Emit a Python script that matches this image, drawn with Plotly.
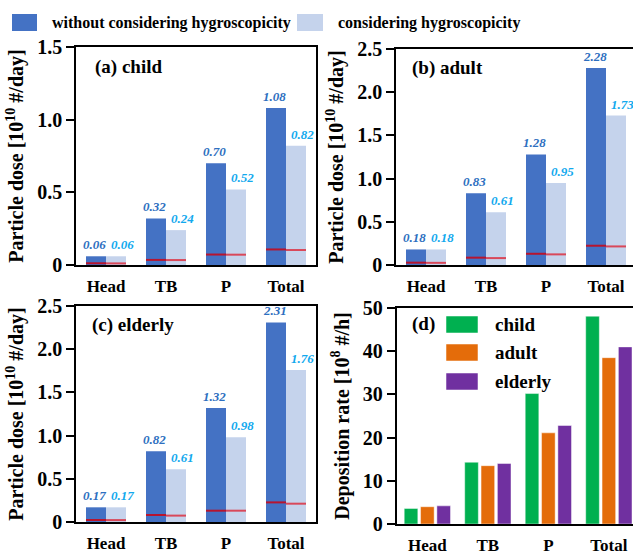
import plotly.graph_objects as go

# ---------------- data ----------------
categories = ["Head", "TB", "P", "Total"]

child_without = [0.06, 0.32, 0.70, 1.08]
child_with = [0.06, 0.24, 0.52, 0.82]
adult_without = [0.18, 0.83, 1.28, 2.28]
adult_with = [0.18, 0.61, 0.95, 1.73]
elderly_without = [0.17, 0.82, 1.32, 2.31]
elderly_with = [0.17, 0.61, 0.98, 1.76]

# red reference line levels inside bars
child_red_without = [0.012, 0.035, 0.072, 0.107]
child_red_with = [0.011, 0.034, 0.071, 0.103]
adult_red_without = [0.027, 0.085, 0.130, 0.223]
adult_red_with = [0.025, 0.080, 0.123, 0.215]
elderly_red_without = [0.023, 0.081, 0.131, 0.227]
elderly_red_with = [0.022, 0.074, 0.131, 0.212]

dep_child = [3.6, 14.3, 30.2, 48.1]
dep_adult = [4.0, 13.5, 21.1, 38.5]
dep_elderly = [4.2, 14.0, 22.8, 41.0]

dose_ticks_a = [0, 0.5, 1.0, 1.5]
dose_ticktext_a = ["0", "0.5", "1.0", "1.5"]
dose_ticks_bc = [0, 0.5, 1.0, 1.5, 2.0, 2.5]
dose_ticktext_bc = ["0", "0.5", "1.0", "1.5", "2.0", "2.5"]
dep_ticks = [0, 10, 20, 30, 40, 50]

# ---------------- style ----------------
W, H = 633, 554
FONT = "Liberation Serif, Times New Roman, serif"
DARK = "#4472C4"
LIGHT = "#C5D3EC"
DARK_TXT = "#2E6FC0"
LIGHT_TXT = "#12A9EE"
RED_D = "#B7142E"
RED_L = "#D9485A"
GREEN = "#00B050"
ORANGE = "#E46C0A"
PURPLE = "#7030A0"


def px_dom_x(a, b):
    return [a / W, min(b / W, 1.0)]


def px_dom_y(top, bottom):
    return [1 - bottom / H, 1 - top / H]


panels = {
    "a": dict(xd=px_dom_x(76, 316), yd=px_dom_y(47, 265), xr=[-0.5, 3.5], yr=[0, 1.5]),
    "b": dict(xd=px_dom_x(396, 633), yd=px_dom_y(49, 265), xr=[-0.5, -0.5 + 237 / 60], yr=[0, 2.5]),
    "c": dict(xd=px_dom_x(76, 316), yd=px_dom_y(306, 522), xr=[-0.5, 3.5], yr=[0, 2.5]),
    "d": dict(xd=px_dom_x(396.5, 633), yd=px_dom_y(308, 524), xr=[-0.51, -0.51 + 236.5 / 60.5], yr=[0, 50]),
}

fig = go.Figure()
ann = []

BW = 1 / 3  # bar width (category units)
VALFONT_D = dict(family=FONT, size=13, color=DARK_TXT, weight="bold", style="italic")
VALFONT_L = dict(family=FONT, size=13, color=LIGHT_TXT, weight="bold", style="italic")


def add_dose(xa, ya, without, withh, red_w, red_c, yr, hpx):
    t = 2.0 * (yr[1] - yr[0]) / hpx  # ~2px red line thickness
    fig.add_trace(go.Bar(x=categories, y=without, xaxis=xa, yaxis=ya, width=BW, offset=-BW,
                         marker=dict(color=DARK, line=dict(width=0)), showlegend=False))
    fig.add_trace(go.Bar(x=categories, y=withh, xaxis=xa, yaxis=ya, width=BW, offset=0,
                         marker=dict(color=LIGHT, line=dict(width=0)), showlegend=False))
    fig.add_trace(go.Bar(x=categories, y=[t] * len(red_w), base=[v - t / 2 for v in red_w],
                         xaxis=xa, yaxis=ya, width=BW, offset=-BW,
                         marker=dict(color=RED_D, line=dict(width=0)), showlegend=False, hoverinfo="skip"))
    fig.add_trace(go.Bar(x=categories, y=[t] * len(red_c), base=[v - t / 2 for v in red_c],
                         xaxis=xa, yaxis=ya, width=BW, offset=0,
                         marker=dict(color=RED_L, line=dict(width=0)), showlegend=False, hoverinfo="skip"))
    for i, v in enumerate(without):
        ann.append(dict(x=i - BW / 2, y=v, xref=xa, yref=ya, text=f"{v:.2f}", showarrow=False,
                        xanchor="center", yanchor="bottom", xshift=-1.5, yshift=2, font=VALFONT_D))
    for i, v in enumerate(withh):
        ann.append(dict(x=i + BW / 2, y=v, xref=xa, yref=ya, text=f"{v:.2f}", showarrow=False,
                        xanchor="center", yanchor="bottom", xshift=6, yshift=2, font=VALFONT_L))


add_dose("x", "y", child_without, child_with, child_red_without, child_red_with, [0, 1.5], 218)
add_dose("x2", "y2", adult_without, adult_with, adult_red_without, adult_red_with, [0, 2.5], 216)
add_dose("x3", "y3", elderly_without, elderly_with, elderly_red_without, elderly_red_with, [0, 2.5], 216)

DW = 0.225
DG = 0.045
for vals, col, name, off in [(dep_child, GREEN, "child", -1.5 * DW - DG),
                             (dep_adult, ORANGE, "adult", -0.5 * DW),
                             (dep_elderly, PURPLE, "elderly", 0.5 * DW + DG)]:
    fig.add_trace(go.Bar(x=categories, y=vals, xaxis="x4", yaxis="y4", width=DW, offset=off,
                         marker=dict(color=col, line=dict(color="rgba(255,255,255,0.45)", width=1)),
                         name=name, showlegend=False))

tickfont_y = dict(family=FONT, size=20, color="black", weight="bold")
tickfont_x = dict(family=FONT, size=17, color="black", weight="bold")
titlefont = dict(family=FONT, size=20, color="black", weight="bold")

layout_axes = {}
names = [("a", "xaxis", "yaxis", "y", "x"), ("b", "xaxis2", "yaxis2", "y2", "x2"),
         ("c", "xaxis3", "yaxis3", "y3", "x3"), ("d", "xaxis4", "yaxis4", "y4", "x4")]
for key, xk, yk, yanchor_id, xanchor_id in names:
    p = panels[key]
    mirror_y = key in ("a", "c")
    layout_axes[xk] = dict(domain=p["xd"], range=p["xr"], anchor=yanchor_id, type="category",
                           showline=True, linecolor="black", linewidth=2, mirror=True,
                           ticks="", showgrid=False, zeroline=False, tickfont=tickfont_x,
                           ticklabelstandoff=5, automargin=False, fixedrange=True)
    if key == "a":
        tv, tt = dose_ticks_a, dose_ticktext_a
        title = "Particle dose [10<sup>10</sup> #/day]"
    elif key in ("b", "c"):
        tv, tt = dose_ticks_bc, dose_ticktext_bc
        title = "Particle dose [10<sup>10</sup> #/day]"
    else:
        tv, tt = dep_ticks, [str(v) for v in dep_ticks]
        title = "Deposition rate [10<sup>8</sup> #/h]"
    layout_axes[yk] = dict(domain=p["yd"], range=p["yr"], anchor=xanchor_id,
                           showline=True, linecolor="black", linewidth=1.5, mirror=mirror_y,
                           ticks="outside", ticklen=8, tickwidth=1.5, tickcolor="black",
                           tickvals=tv, ticktext=tt, showgrid=False, zeroline=False,
                           tickfont=tickfont_y, automargin=False, fixedrange=True,
                           title=dict(text=title, font=titlefont, standoff=8))

fig.update_layout(**layout_axes)

# panel labels
for txt, x, y in [("(a) child", 93, 67), ("(b) adult", 410, 68), ("(c) elderly", 90, 325), ("(d)", 410, 324)]:
    ann.append(dict(text=txt, x=x / W, y=1 - y / H, xref="paper", yref="paper", xanchor="left",
                    yanchor="middle", showarrow=False,
                    font=dict(family=FONT, size=19, color="black", weight="bold")))

# top legend (manual)
shapes = []
top_leg = [(DARK, "without considering hygroscopicity", 12, 37, 50),
           (LIGHT, "considering hygroscopicity", 297, 323, 336)]
for col, txt, x0, x1, tx in top_leg:
    shapes.append(dict(type="rect", xref="paper", yref="paper", x0=x0 / W, x1=x1 / W,
                       y0=1 - 31 / H, y1=1 - 14 / H, fillcolor=col, line=dict(width=0)))
    ann.append(dict(text=txt, x=tx / W, y=1 - 22.5 / H, xref="paper", yref="paper", xanchor="left",
                    yanchor="middle", showarrow=False,
                    font=dict(family=FONT, size=16, color="black", weight="bold")))

# panel (d) legend (manual)
for col, txt, ytop in [(GREEN, "child", 316), (ORANGE, "adult", 344), (PURPLE, "elderly", 373)]:
    shapes.append(dict(type="rect", xref="paper", yref="paper", x0=446 / W, x1=478 / W,
                       y0=1 - (ytop + 17) / H, y1=1 - ytop / H, fillcolor=col,
                       line=dict(color="rgba(255,255,255,0.5)", width=1)))
    ann.append(dict(text=txt, x=493 / W, y=1 - (ytop + 8.5) / H, xref="paper", yref="paper",
                    xanchor="left", yanchor="middle", showarrow=False,
                    font=dict(family=FONT, size=19, color="black", weight="bold")))

fig.update_layout(width=W, height=H, margin=dict(l=0, r=0, t=0, b=0),
                  paper_bgcolor="white", plot_bgcolor="white", barmode="overlay",
                  annotations=ann, shapes=shapes, showlegend=False,
                  font=dict(family=FONT, color="black"))

fig.write_html("out.html")
